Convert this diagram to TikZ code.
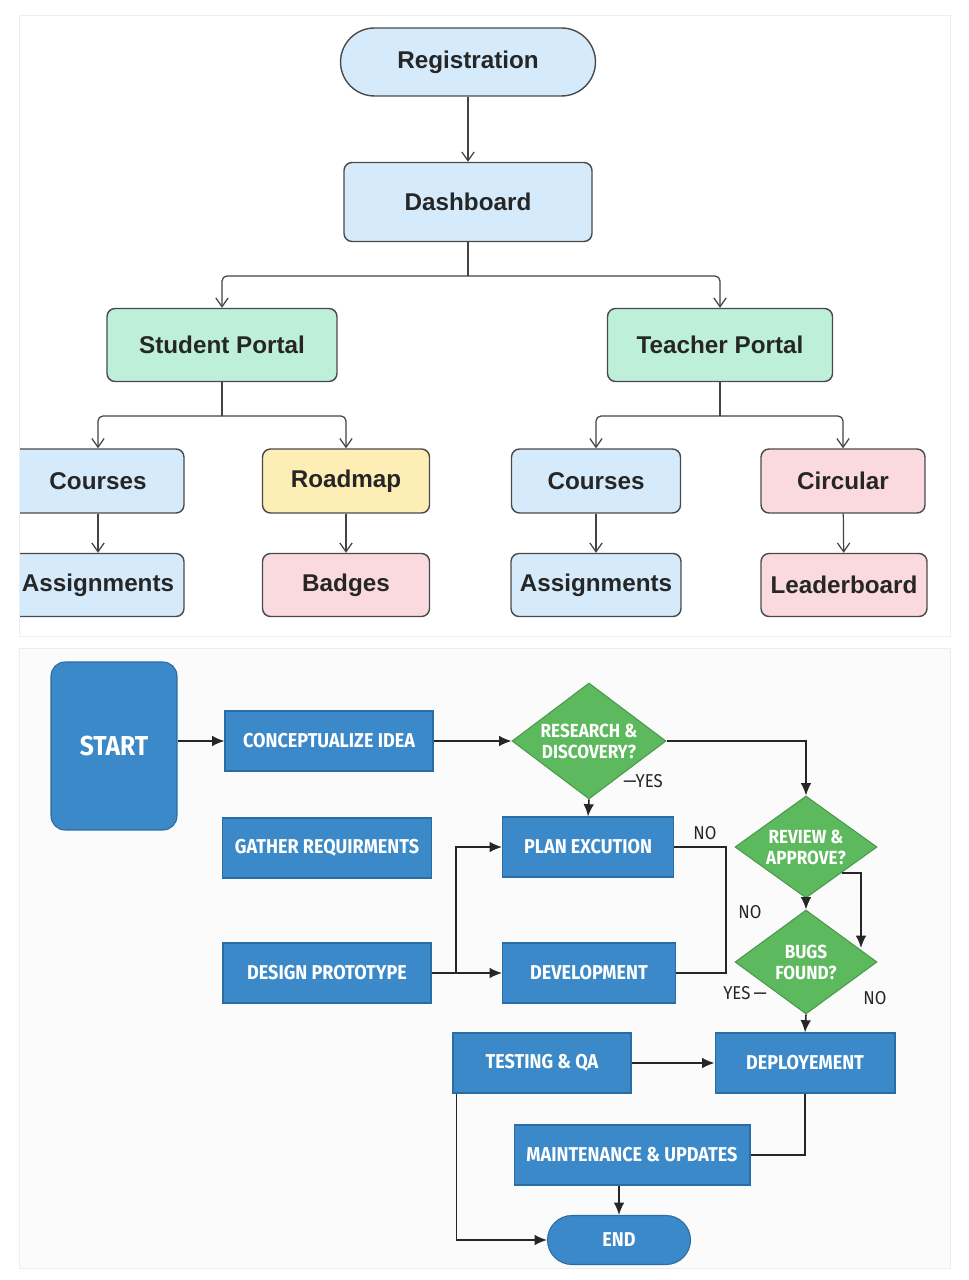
\documentclass[tikz,border=0pt]{standalone}
\usepackage{fontspec}
\setmainfont{Liberation Sans}
\newfontfamily\topfont{Liberation Sans}
\newfontfamily\botfont[FakeStretch=0.9]{Fira Sans}
\usetikzlibrary{shapes.geometric,arrows.meta}
\definecolor{lblue}{HTML}{D5EBFB}
\definecolor{mint}{HTML}{BDEFD9}
\definecolor{lyellow}{HTML}{FDEEB6}
\definecolor{lpink}{HTML}{FADADF}
\definecolor{edgegray}{HTML}{4A4A4A}
\definecolor{txtgray}{HTML}{262626}
\definecolor{bfill}{HTML}{3B89C8}
\definecolor{bedge}{HTML}{2A6DA5}
\definecolor{gfill}{HTML}{5DB95E}
\definecolor{gedge}{HTML}{4A9A4C}
\definecolor{panelline}{HTML}{EEEEEE}
\begin{document}
\begin{tikzpicture}[x=0.02cm,y=-0.02cm,
  tbox/.style={draw=edgegray, line width=0.8pt, rounded corners=0.16cm, text=txtgray,
    font=\topfont\bfseries\fontsize{13.8pt}{15pt}\selectfont, inner sep=0pt},
  tconn/.style={draw=edgegray!90!black, line width=0.7pt, rounded corners=0.1cm},
  tarrow/.style={tconn, -{Straight Barb[length=5pt,width=7pt]}},
  bbox/.style={draw=bedge, line width=0.6pt, fill=bfill, text=white, inner sep=0pt,
    font=\botfont\bfseries\fontsize{11.4pt}{13pt}\selectfont, minimum height=1.2cm},
  dbox/.style={diamond, draw=gedge, line width=0.6pt, fill=gfill, text=white, inner sep=-12pt,
    align=center, font=\botfont\bfseries\fontsize{10.8pt}{12pt}\selectfont},
  bconn/.style={draw=black!85, line width=0.9pt},
  barrow/.style={bconn, -{Latex[length=7pt,width=6pt]}},
  lbl/.style={text=black!85, font=\botfont\fontsize{10.6pt}{12pt}\selectfont, inner sep=0pt}
]
\useasboundingbox (0,0) rectangle (968,1280);
\fill[white] (0,0) rectangle (968,1280);
% panels
\draw[panelline, fill=white, line width=0.4pt] (19,15) rectangle (950,636);
\draw[panelline, fill=black!1.5, line width=0.4pt] (19,648) rectangle (950,1268);

% ---------- top tree ----------
\begin{scope}
\clip (20,15) rectangle (950,636);
\node[tbox, fill=lblue, rounded corners=0.68cm, minimum width=5.1cm, minimum height=1.36cm] (reg) at (468,62) {Registration};
\node[tbox, fill=lblue, minimum width=4.96cm, minimum height=1.58cm] (dash) at (468,202) {Dashboard};
\node[tbox, fill=mint, minimum width=4.6cm, minimum height=1.46cm] (sp) at (222,345) {Student Portal};
\node[tbox, fill=mint, minimum width=4.5cm, minimum height=1.46cm] (tp) at (720,345) {Teacher Portal};

\node[tbox, fill=lblue, minimum width=3.44cm, minimum height=1.28cm] (c1) at (98,481) {Courses};
\node[tbox, fill=lyellow, minimum width=3.34cm, minimum height=1.28cm] (rm) at (346,481) {Roadmap};
\node[tbox, fill=lblue, minimum width=3.38cm, minimum height=1.28cm] (c2) at (596,481) {Courses};
\node[tbox, fill=lpink, minimum width=3.28cm, minimum height=1.28cm] (cir) at (843,481) {Circular};

\node[tbox, fill=lblue, minimum width=3.44cm, minimum height=1.26cm] (a1) at (98,585) {Assignments};
\node[tbox, fill=lpink, minimum width=3.34cm, minimum height=1.26cm] (bad) at (346,585) {Badges};
\node[tbox, fill=lblue, minimum width=3.4cm, minimum height=1.26cm] (a2) at (596,585) {Assignments};
\node[tbox, fill=lpink, minimum width=3.32cm, minimum height=1.26cm] (lead) at (844,585) {Leaderboard};

\draw[tarrow] (reg) -- (dash);
\coordinate (j1) at (468,276);
\draw[tconn] (dash.south) -- (j1);
\draw[tarrow] (j1) -| (sp.north);
\draw[tarrow] (j1) -| (tp.north);
\coordinate (j2) at (222,416);
\draw[tconn] (sp.south) -- (j2);
\draw[tarrow] (j2) -| (c1.north);
\draw[tarrow] (j2) -| (rm.north);
\coordinate (j3) at (720,416);
\draw[tconn] (tp.south) -- (j3);
\draw[tarrow] (j3) -| (c2.north);
\draw[tarrow] (j3) -| (cir.north);
\draw[tarrow] (c1) -- (a1);
\draw[tarrow] (rm) -- (bad);
\draw[tarrow] (c2) -- (a2);
\draw[tarrow] (cir) -- (lead);
\end{scope}

% ---------- bottom flowchart ----------
\node[bbox, rounded corners=0.28cm, minimum width=2.52cm, minimum height=3.36cm,
  font=\botfont\bfseries\fontsize{15.6pt}{17pt}\selectfont] (start) at (114,746) {START};
\node[bbox, minimum width=4.16cm] (concept) at (329,741) {CONCEPTUALIZE IDEA};
\node[bbox, minimum width=4.18cm] (gather) at (327,848) {GATHER REQUIRMENTS};
\node[bbox, minimum width=4.16cm] (design) at (327,973) {DESIGN PROTOTYPE};
\node[dbox, minimum width=3.08cm, minimum height=2.32cm] (research) at (589,741) {RESEARCH \&\\DISCOVERY?};
\node[bbox, minimum width=3.42cm] (plan) at (588,847) {PLAN EXCUTION};
\node[bbox, minimum width=3.46cm] (dev) at (589,973) {DEVELOPMENT};
\node[dbox, minimum width=2.84cm, minimum height=2.04cm] (review) at (806,847) {REVIEW \&\\APPROVE?};
\node[dbox, minimum width=2.84cm, minimum height=2.08cm] (bugs) at (806,962) {BUGS\\FOUND?};
\node[bbox, minimum width=3.56cm] (testing) at (542,1063) {TESTING \& QA};
\node[bbox, minimum width=3.6cm] (deploy) at (805,1063) {DEPLOYEMENT};
\node[bbox, minimum width=4.72cm] (maint) at (632,1155) {MAINTENANCE \& UPDATES};
\node[bbox, rounded corners=0.49cm, minimum width=2.86cm, minimum height=0.98cm] (endn) at (619,1240) {END};

\draw[barrow] (start.east |- concept) -- (concept.west);
\draw[barrow] (concept.east) -- (research.west);
\draw[barrow] (research.east) -| (review.north);
\draw[barrow] (research.south) -- (plan.north);
\draw[barrow] (design.east) -- (dev.west);
\coordinate (br) at (456,973);
\draw[barrow] (br) |- (plan.west);
\coordinate (loopc) at (726,900);
\draw[bconn] (plan.east) -| (loopc) |- (dev.east);
\draw[barrow] (review.south) -- (bugs.north);
\coordinate (bugsr) at (861,948);
\draw[barrow] (review.south east) -| (bugsr);
\draw[barrow] (bugs.south) -- (deploy.north);
\draw[barrow] (testing.east) -- (deploy.west);
\draw[bconn] (deploy.south) |- (maint.east);
\draw[barrow] (maint.south -| endn.north) -- (endn.north);
\draw[barrow] ([xshift=0.08cm]testing.south west) |- (endn.west);

\node[lbl] (lyes1) at (643,781) {\textemdash YES};
\node[lbl] (lno1) at (705,833) {NO};
\node[lbl] (lno2) at (750,912) {NO};
\node[lbl] (lyes2) at (745,993) {YES\,\textemdash};
\node[lbl] (lno3) at (875,998) {NO};
\end{tikzpicture}
\end{document}
